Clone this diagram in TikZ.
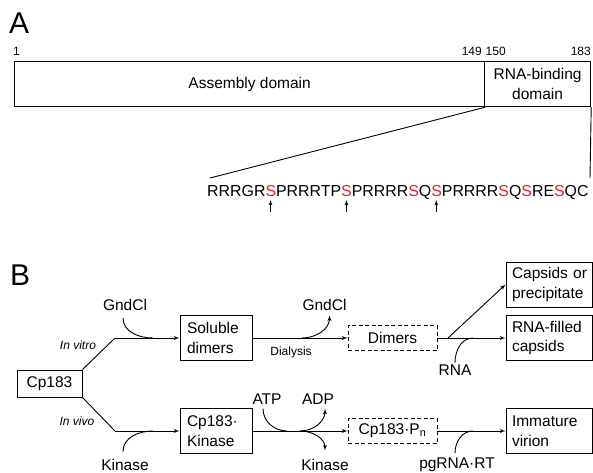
\documentclass[tikz,border=0pt]{standalone}
\usepackage{fontspec}
\setmainfont{Liberation Sans}
\usetikzlibrary{arrows}
\definecolor{sred}{RGB}{232,30,36}
\newcommand{\bfnt}{\fontsize{15.5}{19.5}\selectfont}
\newcommand{\sfnt}{\fontsize{12}{14}\selectfont}
\newcommand{\ps}{\textcolor{sred}{S}}

\begin{document}
\begin{tikzpicture}[>=latex', x=1pt, y=1pt,
  box/.style={draw, line width=1pt, align=left, text width=#1, inner xsep=7pt, inner ysep=0pt, minimum height=45, font=\bfnt},
  dbox/.style={draw, line width=0.9pt, dash pattern=on 4pt off 2.5pt, minimum width=89, minimum height=25, inner sep=0pt, font=\bfnt},
  lbl/.style={anchor=base, inner sep=0pt, font=\bfnt},
  sml/.style={anchor=base, inner sep=0pt, font=\sfnt},
  line/.style={line width=0.9pt}]
\useasboundingbox (0,0) rectangle (593,-472);
\node[anchor=base west, inner sep=0pt, font=\fontsize{30}{30}\selectfont] (pa) at (9,-33) {A};
\node[sml, anchor=base west] (n1) at (13,-55) {1};
\node[sml, anchor=base east] (n149) at (482,-55) {149};
\node[sml, anchor=base west] (n150) at (485.5,-55) {150};
\node[sml, anchor=base east] (n183) at (591,-55) {183};
\node[draw, line width=1.2pt, anchor=north west, minimum width=470, minimum height=45, font=\bfnt] (asm) at (14,-61) {Assembly domain};
\node[draw, line width=1.2pt, anchor=north west, minimum width=106, minimum height=45, align=center, font=\bfnt] (rbd) at (484,-61) {RNA-binding\\domain};
\coordinate (zl) at (210,-178);
\coordinate (zr) at (590,-178);
\draw[line] (asm.south east) -- (zl);
\draw[line] (rbd.south east) -- (zr);
\node[anchor=base west, inner sep=0pt, font=\fontsize{15.9}{19}\selectfont] (seq) at (207,-196.5)
  {RRRGR\ps PRRRTP\ps PRRRR\ps Q\ps PRRRR\ps Q\ps RE\ps QC};
\foreach \x in {270.5,346.4,436.3}
  \draw[->, line width=0.8pt] (\x,-212) -- (\x,-200);

\node[anchor=base west, inner sep=0pt, font=\fontsize{30}{30}\selectfont] (pb) at (10,-285) {B};
\node[draw, line width=1pt, minimum width=65, minimum height=27, inner sep=0pt, font=\bfnt] (cp) at (49.5,-383.5) {Cp183};
\node[box=58] (sol) at (216,-338) {Soluble\\dimers};
\node[box=58] (cpk) at (216,-431) {Cp183·\\Kinase};
\node[dbox] (dim) at (392.5,-338) {Dimers};
\node[dbox] (cpp) at (392.5,-431) {Cp183·P\textsubscript{n}};
\node[box=74, inner xsep=6pt] (cap) at (549,-284.5) {Capsids~or\\precipitate};
\node[box=74, inner xsep=6pt] (rfc) at (549,-338) {RNA-filled\\capsids};
\node[box=74, inner xsep=6pt] (imv) at (549,-431) {Immature\\virion};

\node[lbl] (gnd1) at (125,-310.5) {GndCl};
\node[lbl] (gnd2) at (324.5,-310.5) {GndCl};
\node[lbl] (kin1) at (125,-470) {Kinase};
\node[lbl] (atp) at (267,-404.5) {ATP};
\node[lbl] (adp) at (318,-404.5) {ADP};
\node[lbl] (kin2) at (325,-470) {Kinase};
\node[lbl] (rna) at (455,-375.5) {RNA};
\node[lbl] (pgrt) at (457,-468) {pgRNA·RT};
\node[sml] (dial) at (291,-355) {Dialysis};
\node[sml, font=\sfnt\itshape] (vitro) at (78,-349.5) {In vitro};
\node[sml, font=\sfnt\itshape] (vivo) at (77,-425) {In vivo};

\coordinate (vt) at (115,-338);
\coordinate (vv) at (115,-431);
\coordinate (m1) at (153,-338);
\coordinate (m2) at (153,-431);
\coordinate (o1) at (302,-338);
\coordinate (m4) at (287,-431);
\coordinate (o2) at (300,-431);
\coordinate (sp) at (448,-338);
\coordinate (m3) at (473,-338);
\coordinate (m5) at (473,-431);

\draw[line] (cp.north east) -- (vt);
\draw[line,->] (vt) -- (sol.west);
\draw[line] (cp.south east) -- (vv);
\draw[line,->] (vv) -- (cpk.west);
\draw[line] ([shift={(-2pt,-7pt)}]gnd1.south) to[out=-90,in=180] (m1);
\draw[line] ([shift={(-2pt,7pt)}]kin1.north) to[out=90,in=180] (m2);
\draw[line,->] (sol.east) -- (dim.west);
\draw[line,->] (o1) to[out=0,in=-90] ([shift={(5pt,-4.5pt)}]gnd2.south);
\draw[line,->] (cpk.east) -- (cpp.west);
\draw[line] ([shift={(-4pt,-4pt)}]atp.south) to[out=-90,in=180] (m4);
\draw[line,->] (o2) to[out=0,in=-90] ([shift={(7pt,-4pt)}]adp.south);
\draw[line,->] (o2) to[out=0,in=90] ([yshift=8pt]kin2.north);
\draw[line] (dim.east) -- (sp);
\draw[line,->] (sp) -- (cap.west);
\draw[line,->] (sp) -- (rfc.west);
\draw[line] ([yshift=2pt]rna.north) to[out=90,in=180] (m3);
\draw[line,->] (cpp.east) -- (imv.west);
\draw[line] ([shift={(-2pt,4pt)}]pgrt.north) to[out=90,in=180] (m5);
\end{tikzpicture}
\end{document}
